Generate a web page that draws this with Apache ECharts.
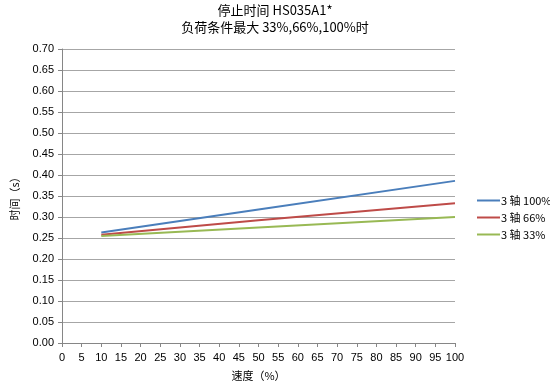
<!DOCTYPE html>
<html><head><meta charset="utf-8">
<script src="https://cdn.jsdelivr.net/npm/echarts@6/dist/echarts.min.js"></script>
<style>html,body{margin:0;padding:0;background:#fff}#c{width:550px;height:386px}</style>
</head><body><div id="c"></div>
<script>
const speeds = [10, 50, 100];
const axis3_100 = [0.263, 0.318, 0.386];
const axis3_66 = [0.258, 0.292, 0.333];
const axis3_33 = [0.255, 0.275, 0.300];
const seriesNames = ['3 轴 100%', '3 轴 66%', '3 轴 33%'];
const colors = ['#4a7ebb', '#be4b48', '#98b954'];
const titleLines = ['停止时间 HS035A1*', '负荷条件最大 33%,66%,100%时'];

const chart = echarts.init(document.getElementById('c'));
const pair = arr => speeds.map((s, i) => [s, arr[i]]);
const cjk = '"Noto Sans CJK SC", sans-serif';
const lab = {color: '#000', fontFamily: '"Liberation Sans", Arial, sans-serif', fontSize: 11};
chart.setOption({
  animation: false,
  title: {text: titleLines.join('\n'), left: 'center', top: 2, padding: 0,
    textStyle: {fontFamily: cjk, fontWeight: 'normal', fontSize: 13, color: '#000', lineHeight: 17}},
  legend: {orient: 'vertical', left: 472, top: 190, itemGap: 6, itemWidth: 23, itemHeight: 2,
    icon: 'rect', textStyle: {fontFamily: cjk, fontSize: 11, color: '#000', padding: [0, 0, 0, -4]},
    data: seriesNames},
  grid: {left: 62, right: 95, top: 49, bottom: 43},
  xAxis: {type: 'value', min: 0, max: 100, interval: 5,
    name: '速度（%）', nameLocation: 'middle', nameGap: 27,
    nameTextStyle: {fontFamily: cjk, fontSize: 11, color: '#000'},
    axisLine: {lineStyle: {color: '#868686'}},
    axisTick: {show: true, length: 4, lineStyle: {color: '#868686'}},
    axisLabel: Object.assign({margin: 9}, lab),
    splitLine: {show: false}},
  yAxis: {type: 'value', min: 0, max: 0.7, interval: 0.05,
    name: '时间（s）', nameLocation: 'middle', nameGap: 42,
    nameTextStyle: {fontFamily: cjk, fontSize: 11, color: '#000'},
    axisLine: {show: true, lineStyle: {color: '#868686'}},
    axisTick: {show: true, length: 4, lineStyle: {color: '#868686'}},
    axisLabel: Object.assign({margin: 8, formatter: v => v.toFixed(2)}, lab),
    splitLine: {lineStyle: {color: '#a6a6a6'}}},
  series: [axis3_100, axis3_66, axis3_33].map((d, i) => ({
    type: 'line', name: seriesNames[i], data: pair(d), showSymbol: false, symbol: 'none',
    lineStyle: {color: colors[i], width: 2}, itemStyle: {color: colors[i]}
  }))
});
</script></body></html>
